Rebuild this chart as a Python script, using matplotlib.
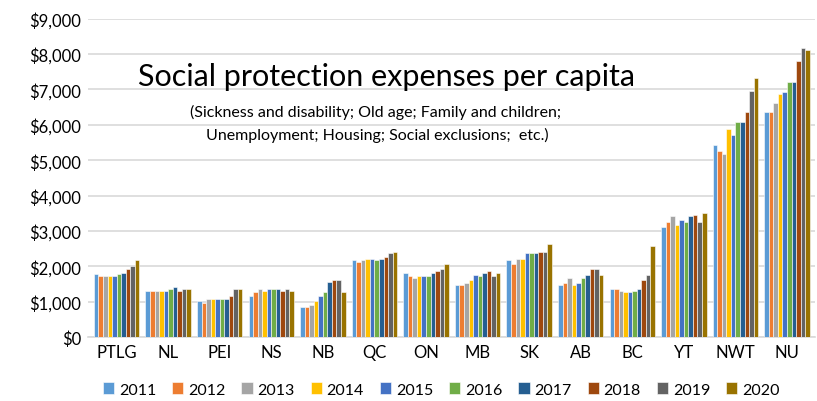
import matplotlib.pyplot as plt
import numpy as np

regions = ["PTLG", "NL", "PEI", "NS", "NB", "QC", "ON", "MB", "SK", "AB", "BC", "YT", "NWT", "NU"]
years = ["2011", "2012", "2013", "2014", "2015", "2016", "2017", "2018", "2019", "2020"]

# rows = regions, columns = years
ptlg = [1775, 1720, 1720, 1720, 1720, 1775, 1820, 1925, 2020, 2170]
nl = [1310, 1310, 1310, 1310, 1310, 1365, 1415, 1310, 1365, 1365]
pei = [1010, 960, 1065, 1065, 1065, 1065, 1065, 1160, 1365, 1365]
ns = [1160, 1265, 1365, 1310, 1365, 1365, 1365, 1310, 1365, 1310]
nb = [860, 860, 905, 1010, 1160, 1265, 1565, 1615, 1615, 1265]
qc = [2170, 2115, 2170, 2215, 2215, 2170, 2215, 2265, 2365, 2415]
on = [1820, 1715, 1670, 1715, 1715, 1715, 1820, 1870, 1925, 2065]
mb = [1460, 1460, 1520, 1615, 1765, 1715, 1820, 1870, 1715, 1820]
sk = [2170, 2065, 2215, 2215, 2365, 2365, 2365, 2415, 2415, 2625]
ab = [1460, 1520, 1670, 1460, 1520, 1670, 1765, 1915, 1915, 1765]
bc = [1365, 1365, 1310, 1265, 1265, 1310, 1370, 1615, 1765, 2565]
yt = [3115, 3265, 3415, 3160, 3320, 3265, 3415, 3460, 3265, 3520]
nwt = [5420, 5270, 5165, 5870, 5720, 6070, 6070, 6370, 6970, 7320]
nu = [6360, 6360, 6610, 6865, 6915, 7215, 7215, 7815, 8165, 8120]

values = np.array([ptlg, nl, pei, ns, nb, qc, on, mb, sk, ab, bc, yt, nwt, nu])

colors = ["#5B9BD5", "#ED7D31", "#A5A5A5", "#FFC000", "#4472C4",
          "#70AD47", "#255E91", "#9E480E", "#636363", "#997300"]

plt.rcParams['font.family'] = ['Lato', 'DejaVu Sans']

fig = plt.figure(figsize=(8.17, 4.02), dpi=100)
ax = fig.add_axes([0.108, 0.159, 0.89, 0.792])

x = np.arange(len(regions))
w = 0.088
for j, yr in enumerate(years):
    ax.bar(x - 0.44 + w * (j + 0.5), values[:, j], width=w, color=colors[j],
           edgecolor='white', linewidth=0.4, label=yr, zorder=3)

ax.set_ylim(0, 9000)
ax.set_xlim(-0.55, len(regions) - 0.45)
ax.set_yticks(np.arange(0, 9001, 1000))
ax.set_yticklabels(["${:,}".format(v) for v in range(0, 9001, 1000)], fontsize=12)
ax.set_xticks(x)
ax.set_xticklabels(regions, fontsize=12)
ax.tick_params(length=0, pad=5)
ax.grid(axis='y', color='#D9D9D9', linewidth=1.2, zorder=0)
for s in ['top', 'right', 'left']:
    ax.spines[s].set_visible(False)
ax.spines['bottom'].set_color('#D9D9D9')
ax.spines['bottom'].set_linewidth(1.2)

# title and subtitle placed inside the plot area
fig.text(138 / 817, 1 - 77 / 402, "Social protection expenses per capita",
         fontsize=22, va='center', ha='left')
fig.text(376 / 817, 1 - 112 / 402, "(Sickness and disability; Old age; Family and children;",
         fontsize=11.5, va='center', ha='center')
fig.text(377 / 817, 1 - 135 / 402, "Unemployment; Housing; Social exclusions;  etc.)",
         fontsize=11.5, va='center', ha='center')

fig.legend(loc='lower center', ncol=10, bbox_to_anchor=(0.54, -0.025), frameon=False,
           fontsize=11.5, handlelength=0.7, handleheight=0.7, handletextpad=0.3,
           columnspacing=1.0)

fig.savefig("out.png", dpi=100)
